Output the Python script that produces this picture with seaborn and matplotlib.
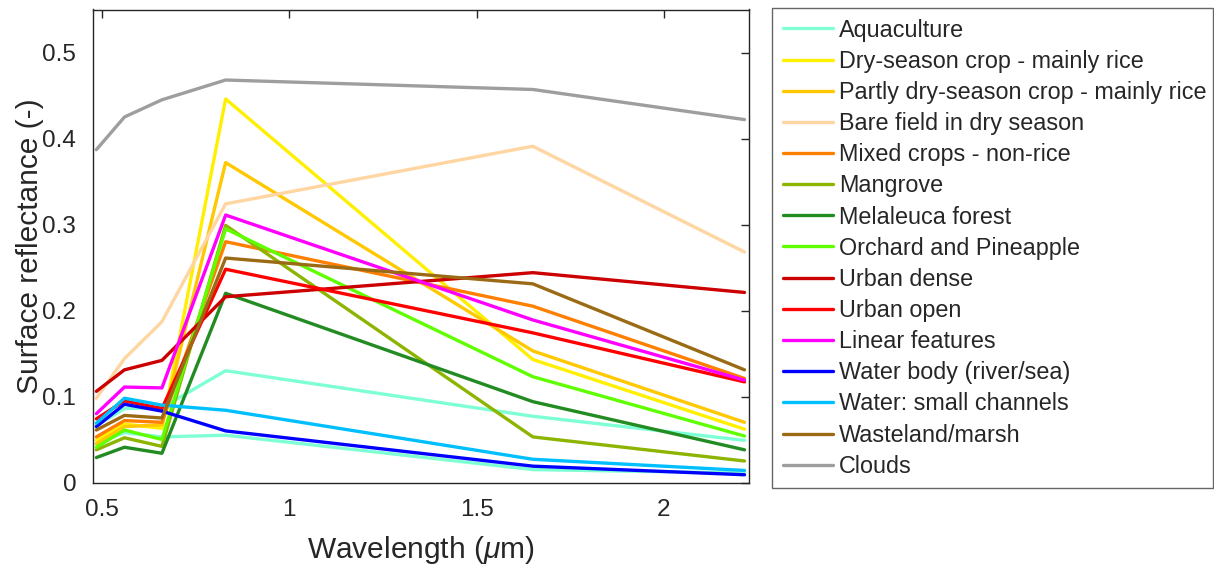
import numpy as np
import pandas as pd
import matplotlib
matplotlib.use('Agg')
import matplotlib.pyplot as plt
import seaborn as sns

# Landsat band centre wavelengths (um)
wavelength = [0.485, 0.56, 0.66, 0.83, 1.65, 2.215]

# surface reflectance per land-cover class
aquaculture = [0.066, 0.086, 0.087, 0.130, 0.077, 0.049]
dry_season_rice = [0.049, 0.068, 0.063, 0.446, 0.143, 0.062]
partly_dry_rice = [0.045, 0.065, 0.067, 0.372, 0.153, 0.070]
bare_field = [0.098, 0.144, 0.187, 0.324, 0.391, 0.268]
mixed_crops = [0.053, 0.072, 0.070, 0.280, 0.205, 0.121]
mangrove = [0.038, 0.052, 0.042, 0.299, 0.053, 0.025]
melaleuca = [0.029, 0.041, 0.034, 0.220, 0.094, 0.038]
orchard = [0.041, 0.061, 0.050, 0.295, 0.123, 0.054]
urban_dense = [0.106, 0.131, 0.142, 0.216, 0.244, 0.221]
urban_open = [0.074, 0.095, 0.086, 0.248, 0.174, 0.117]
linear_features = [0.080, 0.111, 0.110, 0.311, 0.189, 0.119]
water_body = [0.065, 0.091, 0.083, 0.060, 0.019, 0.009]
water_channels = [0.069, 0.098, 0.090, 0.084, 0.027, 0.014]
wasteland = [0.061, 0.078, 0.075, 0.261, 0.231, 0.131]
clouds = [0.387, 0.425, 0.445, 0.468, 0.457, 0.422]
# extra aquaculture-coloured curve that has no legend entry
aquaculture_2 = [0.045, 0.058, 0.053, 0.055, 0.015, 0.011]

classes = ['Aquaculture', 'Dry-season crop - mainly rice', 'Partly dry-season crop - mainly rice',
           'Bare field in dry season', 'Mixed crops - non-rice', 'Mangrove', 'Melaleuca forest',
           'Orchard and Pineapple', 'Urban dense', 'Urban open', 'Linear features',
           'Water body (river/sea)', 'Water: small channels', 'Wasteland/marsh', 'Clouds']
values = [aquaculture, dry_season_rice, partly_dry_rice, bare_field, mixed_crops, mangrove,
          melaleuca, orchard, urban_dense, urban_open, linear_features, water_body,
          water_channels, wasteland, clouds]
colors = ['#7FFFD4', '#FFEF00', '#FFC800', '#FFD5A2', '#FF7F00', '#8DB400', '#228B22',
          '#5FFF00', '#CC0000', '#FF0000', '#FF00FF', '#0000FF', '#00BFFF', '#9B6A14', '#9E9E9E']

rows = []
for name, vals in zip(classes, values):
    for w, v in zip(wavelength, vals):
        rows.append({'wavelength': w, 'reflectance': v, 'class': name})
data = pd.DataFrame(rows)
extra = pd.DataFrame({'wavelength': wavelength, 'reflectance': aquaculture_2})

sns.set_style('white')
plt.rcParams['font.family'] = ['Liberation Sans', 'DejaVu Sans']
plt.rcParams['mathtext.fontset'] = 'custom'
plt.rcParams['mathtext.it'] = 'Liberation Sans:italic'
plt.rcParams['mathtext.rm'] = 'Liberation Sans'

fig = plt.figure(figsize=(12.14, 5.65), dpi=100)
ax = fig.add_axes([93 / 1214, 1 - 482.5 / 565, 656 / 1214, 473 / 565])

sns.lineplot(data=extra, x='wavelength', y='reflectance', color=colors[0], lw=2.4, ax=ax, legend=False)
sns.lineplot(data=data, x='wavelength', y='reflectance', hue='class', hue_order=classes,
             palette=dict(zip(classes, colors)), lw=2.4, ax=ax)

ax.set_xlim(0.476, 2.227)
ax.set_ylim(0, 0.55)
ax.set_xticks([0.5, 1, 1.5, 2])
ax.set_xticklabels(['0.5', '1', '1.5', '2'])
ax.set_yticks([0, 0.1, 0.2, 0.3, 0.4, 0.5])
ax.set_yticklabels(['0', '0.1', '0.2', '0.3', '0.4', '0.5'])
ax.tick_params(direction='in', length=6, width=1, colors='#262626', labelsize=17.5,
               top=True, right=True)
ax.tick_params(axis='x', pad=12)
ax.tick_params(axis='y', pad=12)
for lbl in ax.get_xticklabels() + ax.get_yticklabels():
    lbl.set_color('#262626')
for s in ax.spines.values():
    s.set_color('#262626')
    s.set_linewidth(1)
ax.set_xlabel(r'Wavelength ($\mu$m)', fontsize=21.5, color='#262626')
ax.set_ylabel('Surface reflectance (-)', fontsize=21.5, color='#262626')
ax.xaxis.set_label_coords(0.5, -0.108)
ax.yaxis.set_label_coords(-0.075, 0.5)

handles, labels = ax.get_legend_handles_labels()
ax.get_legend().remove()
leg = fig.legend(handles, labels, loc='upper left',
                 bbox_to_anchor=(772 / 1214, 1 - 8 / 565, 441 / 1214, 0.0), mode='expand',
                 fontsize=16.8, frameon=True, fancybox=False, handlelength=2.15,
                 handletextpad=0.27, labelspacing=0.35, borderaxespad=0, borderpad=0.45)
leg.get_frame().set_edgecolor('#404040')
leg.get_frame().set_linewidth(1)
for line in leg.get_lines():
    line.set_linewidth(2.4)

fig.savefig('out.png', dpi=100)
